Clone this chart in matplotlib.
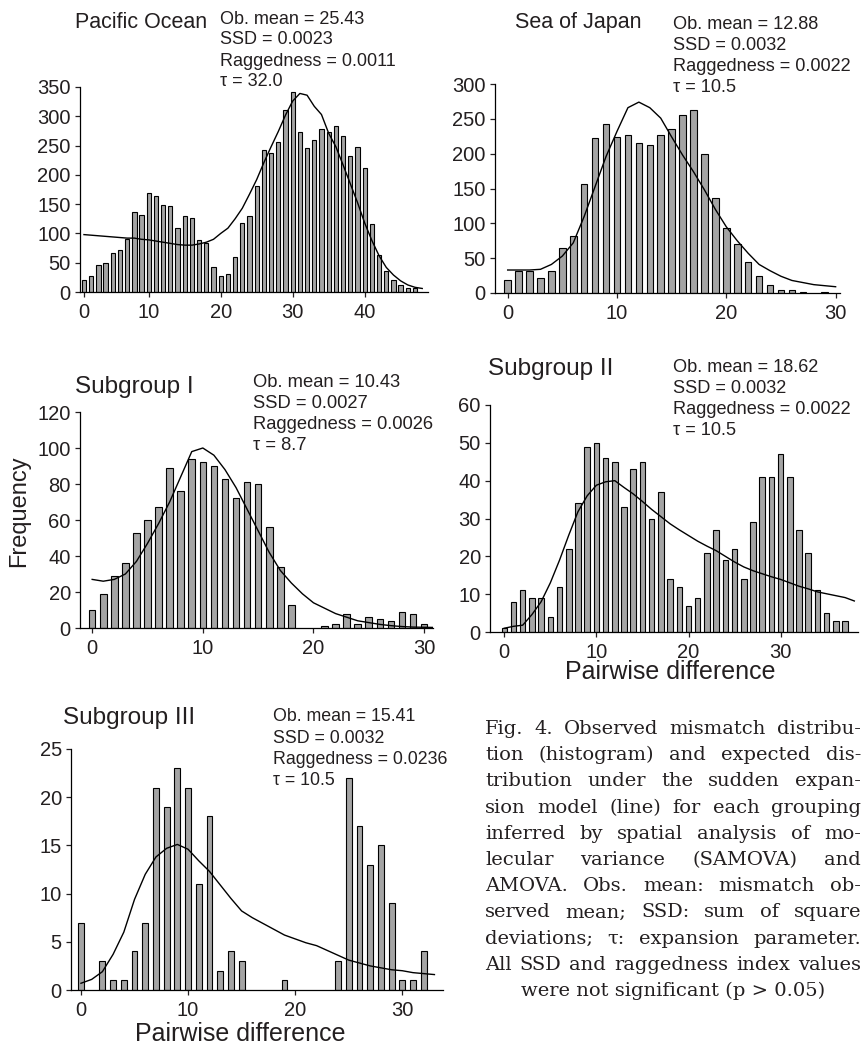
import numpy as np
import matplotlib.pyplot as plt

plt.rcParams['font.family'] = ['Liberation Sans', 'DejaVu Sans']
INK = '#231f20'
BAR = '#a4a4a4'
W, H = 862, 1046

# observed mismatch frequencies (bars), one per pairwise difference 0, 1, 2, ...
pac_obs = [20, 27, 46, 50, 67, 71, 90, 137, 132, 169, 164, 149, 147, 110, 130, 127, 89, 84, 42, 27,
           31, 60, 118, 130, 181, 242, 237, 256, 311, 341, 273, 246, 260, 278, 273, 283, 266, 232, 247, 211,
           116, 63, 36, 20, 12, 7, 6]
sea_obs = [18, 32, 31, 22, 31, 65, 82, 157, 222, 242, 224, 227, 215, 213, 227, 235, 255, 263, 199, 136,
           94, 70, 45, 25, 12, 5, 5, 2, 0, 2]
sub1_obs = [10, 19, 29, 36, 53, 60, 67, 89, 76, 94, 92, 90, 83, 72, 81, 80, 56, 34, 13, 0,
            0, 1, 2, 8, 2, 6, 5, 4, 9, 8, 2]
sub2_obs = [1, 8, 11, 9, 9, 4, 12, 22, 34, 49, 50, 46, 45, 33, 43, 45, 30, 37, 14, 12,
            7, 9, 21, 27, 19, 22, 14, 29, 41, 41, 47, 41, 27, 21, 11, 5, 3, 3]
sub3_obs = [7, 0, 3, 1, 1, 4, 7, 21, 19, 23, 21, 11, 18, 2, 4, 3, 0, 0, 0, 1,
            0, 0, 0, 0, 3, 22, 17, 13, 15, 9, 1, 1, 4]

# expected frequencies under sudden expansion (line)
pac_exp = [98, 97, 96, 95, 94, 93, 92, 92, 90, 89, 87, 85, 83, 81, 80, 80, 82, 85, 90, 100,
           109, 125, 143, 167, 192, 221, 248, 274, 302, 326, 339, 336, 317, 303, 271, 248, 217, 185, 153, 118,
           88, 62, 42, 29, 19, 12, 8, 6]
sea_exp = [33, 33, 33, 34, 41, 53, 72, 110, 153, 196, 232, 266, 274, 266, 251, 224, 198, 174, 148, 120,
           95, 75, 57, 41, 32, 24, 18, 15, 12, 10.5, 9]
sub1_exp = [27, 26, 27, 30, 37, 47, 58, 70, 84, 98, 100, 96, 88, 78, 66, 54, 42, 32, 25, 19,
            14, 11, 8, 6, 4, 3, 2, 1.3, 0.8, 0.5, 0.4, 0.3]
sub2_exp = [1, 1.5, 1.8, 4.6, 8, 13, 19, 25.6, 31.8, 36, 38.8, 39.7, 40, 38.2, 36.5, 34.5, 32.4, 30.5, 28.6, 27,
            25.5, 24, 22.7, 21.5, 20, 18.5, 17.2, 16.2, 15.4, 14.6, 13.9, 13, 12.1, 11.4, 10.6, 10.1, 9.6, 9.1, 8.2]
sub3_exp = [0.7, 1.1, 1.9, 3.7, 6, 9.4, 12, 13.8, 14.7, 15.1, 14.6, 13.4, 12.3, 10.9, 9.5, 8.2, 7.5, 6.9, 6.3, 5.7,
            5.3, 4.9, 4.6, 4.1, 3.6, 3.1, 2.8, 2.5, 2.3, 2.1, 2.0, 1.8, 1.7, 1.6]

titles = ['Pacific Ocean', 'Sea of Japan', 'Subgroup I', 'Subgroup II', 'Subgroup III']
ob_mean = ['25.43', '12.88', '10.43', '18.62', '15.41']
ssd = ['0.0023', '0.0032', '0.0027', '0.0032', '0.0032']
ragged = ['0.0011', '0.0022', '0.0026', '0.0022', '0.0236']
tau = ['32.0', '10.5', '8.7', '10.5', '10.5']

pac_ticks = [0, 9, 19, 29, 39]
pac_ticklabels = ['0', '10', '20', '30', '40']

caption = [
    'Fig. 4. Observed mismatch distribu-',
    'tion (histogram) and expected dis-',
    'tribution under the sudden expan-',
    'sion model (line) for each grouping',
    'inferred by spatial analysis of mo-',
    'lecular variance (SAMOVA) and',
    'AMOVA. Obs. mean: mismatch ob-',
    'served mean; SSD: sum of square',
    'deviations; \u03c4: expansion parameter.',
    'All SSD and raggedness index values',
    'were not significant (p > 0.05)',
]

fig = plt.figure(figsize=(W / 100, H / 100), dpi=100)


def px_axes(l, t, r, b):
    return fig.add_axes([l / W, 1 - b / H, (r - l) / W, (b - t) / H])


def label(x, y, s, size, **kw):
    # y is the middle of the capitals, in pixels from the top
    cap = 0.72 * size * 100 / 72
    return fig.text(x / W, 1 - (y + cap / 2) / H, s, fontsize=size,
                    va='baseline', color=INK, **kw)


def panel(box, obs, exp, ymax, ystep, xlim, xticks, xlabels=None, width=0.6):
    ax = px_axes(*box)
    x = np.arange(len(obs))
    h = np.array(obs, dtype=float)
    keep = h > 0
    ax.bar(x[keep], h[keep], width=width, color=BAR, edgecolor='black',
           linewidth=0.8, zorder=2)
    ax.plot(np.arange(len(exp)), exp, color='black', lw=1.0, zorder=3)
    ax.set_xlim(*xlim)
    ax.set_ylim(0, ymax)
    ax.set_yticks(np.arange(0, ymax + 1, ystep))
    ax.set_xticks(xticks)
    if xlabels is not None:
        ax.set_xticklabels(xlabels)
    for s in ['top', 'right']:
        ax.spines[s].set_visible(False)
    for s in ['left', 'bottom']:
        ax.spines[s].set_linewidth(0.9)
    ax.tick_params(length=3.6, width=0.9, labelsize=14.5, colors=INK, pad=3)
    ax.tick_params(axis='x', pad=4)
    ax.patch.set_alpha(0)
    return ax


panel((80, 87, 428, 292), pac_obs, pac_exp, 350, 50, (-0.55, 47.8), pac_ticks, pac_ticklabels)
panel((495, 84, 840, 293), sea_obs, sea_exp, 300, 50, (-1.16, 30.4), [0, 10, 20, 30])
panel((80, 412, 433, 628), sub1_obs, sub1_exp, 120, 20, (-1.1, 30.8), [0, 10, 20, 30])
panel((490, 405, 858, 632), sub2_obs, sub2_exp, 60, 10, (-1.55, 38.4), [0, 10, 20, 30])
panel((71, 749, 443, 990), sub3_obs, sub3_exp, 25, 5, (-0.93, 33.8), [0, 10, 20, 30], width=0.55)

# panel titles and statistics
title_pos = [(75, 20, 15.5), (515, 20, 15.5), (75, 384, 17.5), (488, 366, 17.5), (63, 715, 17.5)]
stats_pos = [(220, 17, 21, 13), (673, 22, 21, 13.1), (253, 380, 21, 13.2),
             (673, 365, 21, 13.1), (273, 715, 21.3, 12.8)]
for i in range(5):
    tx, ty, ts = title_pos[i]
    label(tx, ty, titles[i], ts)
    sx, sy, dy, ss = stats_pos[i]
    lines = ['Ob. mean = ' + ob_mean[i], 'SSD = ' + ssd[i],
             'Raggedness = ' + ragged[i], '\u03c4 = ' + tau[i]]
    for k, ln in enumerate(lines):
        label(sx, sy + k * dy, ln, ss)

fig.text(19 / W, 1 - 511 / H, 'Frequency', rotation=90, ha='center', va='center',
         fontsize=17, color=INK)
fig.text(670 / W, 1 - 672 / H, 'Pairwise difference', ha='center', va='center',
         fontsize=18, color=INK)
fig.text(240 / W, 1 - 1034 / H, 'Pairwise difference', ha='center', va='center',
         fontsize=18, color=INK)

# justified caption
cap_x0, cap_x1 = 485, 861
cap_font = dict(fontsize=14, family='DejaVu Serif', color=INK, va='baseline')
renderer = fig.canvas.get_renderer()
for i, line in enumerate(caption):
    y = 1 - (734 + i * 26.2) / H
    if i == len(caption) - 1:
        fig.text((cap_x0 + cap_x1) / 2 / W, y, line, ha='center', **cap_font)
        continue
    words = line.split(' ')
    ts = [fig.text(0, y, w, ha='left', **cap_font) for w in words]
    widths = [t.get_window_extent(renderer).width for t in ts]
    gap = max((cap_x1 - cap_x0 - sum(widths)) / (len(words) - 1), 2)
    xpos = cap_x0
    for t, w in zip(ts, widths):
        t.set_x(xpos / W)
        xpos += w + gap

fig.savefig('out.png', dpi=100)
